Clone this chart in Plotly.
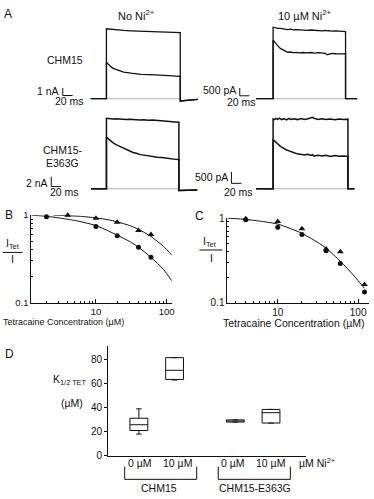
import plotly.graph_objects as go

W, H = 374, 499
FONT = "Liberation Sans, Arial, Helvetica, sans-serif"
INK = "#111111"


def fx(px):
    return px / W


def fy(py):
    return 1 - py / H


# ======================= DATA =======================
# ---- Panel A: current traces (time in ms from pulse onset, current in nA)
pulse_ms = 150

tl_time = [0, 5, 10, 15, 25, 35, 50, 70, 100, 130, 150]
tl_upper = [9.31, 9.27, 9.22, 9.19, 9.13, 9.09, 9.04, 8.99, 8.93, 8.86, 8.79]
tl_lower = [4.85, 4.5, 4.2, 4.0, 3.75, 3.55, 3.4, 3.25, 3.16, 3.05, 2.97]
tl_tail = [-0.3, -0.1]
tl_span = [-32, 186]

tr_time = [0, 3, 6, 10, 15, 20, 25, 30, 36, 42, 48, 55, 62, 70, 78, 86, 94, 102, 108, 112, 116, 122, 130, 138, 145, 150]
tr_upper = [4.58, 4.55, 4.53, 4.51, 4.50, 4.46, 4.47, 4.43, 4.45, 4.41, 4.43, 4.40, 4.41, 4.38, 4.40, 4.37, 4.38, 4.35, 4.37, 4.34, 4.36, 4.33, 4.34, 4.31, 4.32, 4.30]
tr_lower = [3.75, 3.62, 3.50, 3.38, 3.22, 3.12, 3.02, 2.97, 2.99, 2.95, 2.97, 2.94, 2.96, 2.93, 2.96, 2.92, 2.95, 2.93, 2.90, 2.82, 2.86, 2.90, 2.88, 2.90, 2.87, 2.88]
tr_tail = [0.0, 0.0]
tr_span = [-35, 174]

bl_time = [0, 4, 8, 14, 20, 27, 34, 41, 48, 55, 62, 70, 78, 86, 95, 105, 115, 125, 135, 143, 150]
bl_upper = [14.46, 14.38, 14.43, 14.32, 14.37, 14.27, 14.31, 14.21, 14.26, 14.17, 14.21, 14.11, 14.16, 14.05, 14.10, 13.99, 13.93, 13.85, 13.79, 13.71, 13.66]
bl_lower = [10.6, 10.2, 9.85, 9.4, 9.05, 8.7, 8.35, 8.0, 7.72, 7.45, 7.27, 7.0, 6.9, 6.72, 6.62, 6.45, 6.4, 6.22, 6.14, 6.03, 6.0]
bl_tail = [-0.35, -0.25]
bl_span = [-32, 188]

br_time = [0, 3, 6, 9, 13, 17, 22, 27, 32, 36, 42, 49, 56, 63, 70, 76, 79, 82, 90, 98, 106, 115, 124, 132, 141, 150]
br_upper = [3.06, 3.03, 3.08, 3.04, 3.09, 3.03, 3.07, 3.02, 3.08, 3.04, 3.07, 3.03, 3.08, 3.04, 3.07, 3.10, 3.13, 3.09, 3.04, 3.07, 3.03, 3.06, 3.02, 3.06, 3.03, 3.05]
br_lower = [2.16, 2.09, 2.02, 1.96, 1.89, 1.82, 1.75, 1.70, 1.66, 1.62, 1.58, 1.53, 1.52, 1.48, 1.51, 1.46, 1.49, 1.43, 1.47, 1.44, 1.47, 1.42, 1.46, 1.43, 1.44, 1.42]
br_tail = [0.0, 0.0]
br_span = [-34, 163]

scale_ms = [20, 20, 20, 20]
scale_amp_nA = [1.0, 0.5, 2.0, 0.5]
scale_amp_text = ["1 nA", "500 pA", "2 nA", "500 pA"]

# ---- Panel B: I_Tet / I vs tetracaine (µM)
b_tri_conc = [4, 10, 20, 40, 60, 120]
b_tri_ratio = [1.0, 0.92, 0.83, 0.67, 0.60, 0.30]
b_cir_conc = [2, 10, 20, 40, 60, 120]
b_cir_ratio = [0.96, 0.74, 0.58, 0.43, 0.33, 0.175]
b_fit_up_conc = [2.5, 4, 6, 10, 15, 20, 30, 40, 60, 90, 120]
b_fit_up = [1.0, 0.985, 0.97, 0.93, 0.885, 0.84, 0.76, 0.69, 0.57, 0.44, 0.345]
b_fit_lo_conc = [1.22, 2, 3, 5, 7, 10, 15, 20, 30, 40, 60, 90, 120]
b_fit_lo = [1.0, 0.97, 0.93, 0.87, 0.82, 0.76, 0.66, 0.59, 0.50, 0.43, 0.33, 0.24, 0.175]

# ---- Panel C
c_conc = [4, 10, 20, 40, 60, 120]
c_tri_ratio = [0.98, 0.91, 0.75, 0.43, 0.40, 0.164]
c_cir_ratio = [0.955, 0.78, 0.64, 0.41, 0.29, 0.134]
c_fit_conc = [2.37, 3, 4, 6, 10, 15, 20, 30, 40, 60, 90, 120]
c_fit = [1.0, 0.985, 0.965, 0.92, 0.85, 0.74, 0.66, 0.53, 0.44, 0.31, 0.205, 0.148]

# ---- Panel D: K1/2 TET (µM) box summaries
d_channels = ["CHM15", "CHM15-E363G"]
d_ni_labels = ["0 µM", "10 µM"]
d_q1 = [21.1, 63.5, 28.1, 27.3]
d_median = [25.9, 71.1, 29.0, 35.9]
d_q3 = [31.3, 81.6, 29.9, 38.6]
d_low = [18.1, 63.0, 28.1, 27.3]
d_high = [39.1, 81.6, 29.9, 38.6]

# ======================= FIGURE =======================
fig = go.Figure()
layout = dict(
    width=W, height=H, autosize=False,
    margin=dict(l=0, r=0, t=0, b=0),
    paper_bgcolor="white", plot_bgcolor="white",
    showlegend=False,
    font=dict(family=FONT, color=INK, size=10),
)
annotations = []
shapes = []


def text(x, y, s, size=10, xanchor="center"):
    annotations.append(dict(x=fx(x), y=fy(y), xref="paper", yref="paper", text=s,
                            showarrow=False, xanchor=xanchor, yanchor="middle",
                            font=dict(size=size, family=FONT, color=INK)))


def pline(x0, y0, x1, y1, w=1, color=INK):
    shapes.append(dict(type="line", xref="paper", yref="paper", x0=fx(x0), y0=fy(y0),
                       x1=fx(x1), y1=fy(y1), line=dict(color=color, width=w)))


# ---- Panel A geometry: (dom x0, x1, y0, y1 px, onset px, px/ms, baseline px, px/nA)
a_geom = [
    (85, 205, 10, 105, 107.3, 0.496, 95.0, 7.7),
    (255, 372, 10, 105, 275.3, 0.487, 95.0, 16.0),
    (85, 205, 105, 196, 107.3, 0.487, 187.3, 5.0),
    (255, 372, 105, 196, 275.3, 0.503, 187.3, 23.4),
]
a_data = [
    (tl_time, tl_upper, tl_lower, tl_tail, tl_span, 1.3),
    (tr_time, tr_upper, tr_lower, tr_tail, tr_span, 1.3),
    (bl_time, bl_upper, bl_lower, bl_tail, bl_span, 1.5),
    (br_time, br_upper, br_lower, br_tail, br_span, 1.5),
]
a_scale_corner = [(63.3, 91.7), (241.7, 92.0), (51.7, 185.0), (233.3, 181.7)]

for i, (g, d) in enumerate(zip(a_geom, a_data)):
    x0, x1, y0, y1, t0px, ppms, basepx, ppn = g
    t, up, lo, tail, span, lw = d
    k = i + 1
    xa, ya = f"x{k}", f"y{k}"
    layout[f"xaxis{k}"] = dict(domain=[fx(x0), fx(x1)], anchor=ya, visible=False,
                               range=[(x0 - t0px) / ppms, (x1 - t0px) / ppms], fixedrange=True)
    layout[f"yaxis{k}"] = dict(domain=[fy(y1), fy(y0)], anchor=xa, visible=False,
                               range=[(basepx - y1) / ppn, (basepx - y0) / ppn], fixedrange=True)
    # zero reference during pulse
    fig.add_trace(go.Scatter(x=[0, pulse_ms], y=[0, 0], mode="lines", xaxis=xa, yaxis=ya,
                             line=dict(color="#b0b0b0", width=1), hoverinfo="skip"))
    for vals in (up, lo):
        xs = [span[0], 0] + list(t) + [pulse_ms, span[1]]
        ys = [0, 0] + list(vals) + [tail[0], tail[1]]
        fig.add_trace(go.Scatter(x=xs, y=ys, mode="lines", xaxis=xa, yaxis=ya,
                                 line=dict(color=INK, width=lw), hoverinfo="skip"))
    # scale bar
    cx, cy = a_scale_corner[i]
    pline(cx, cy, cx, cy - scale_amp_nA[i] * ppn)
    pline(cx, cy, cx + scale_ms[i] * ppms, cy)

# scale bar texts
text(61, 87.5, scale_amp_text[0], 10.5, "right")
text(70, 97.5, f"{scale_ms[0]} ms", 10.5)
text(240, 86.5, scale_amp_text[1], 10.5, "right")
text(243, 98, f"{scale_ms[1]} ms", 10.5)
text(50, 181, scale_amp_text[2], 10.5, "right")
text(65, 191, f"{scale_ms[2]} ms", 10.5)
text(232, 175.5, scale_amp_text[3], 10.5, "right")
text(240.5, 190.5, f"{scale_ms[3]} ms", 10.5)

text(8, 8, "A", 12)
text(138, 9, "No Ni<sup>2+</sup>", 11)
text(307, 9, "10 µM Ni<sup>2+</sup>", 11)
text(66, 55.5, "CHM15", 10.5)
text(64, 147.5, "CHM15-", 10.5)
text(63.5, 161, "E363G", 10.5)

# ---- Panels B and C (log-log)
minor_x = [2, 3, 4, 5, 6, 7, 8, 9, 20, 30, 40, 50, 60, 70, 80, 90]
minor_y = [0.2, 0.3, 0.4, 0.5, 0.6, 0.7, 0.8, 0.9]


def log_axes(k, xdom_px, ydom_px, x10px, x100px, tick_size):
    xa0, xa1 = xdom_px
    dec = x100px - x10px
    lo = 1 - (x10px - xa0) / dec
    hi = 2 + (xa1 - x100px) / dec
    layout[f"xaxis{k}"] = dict(
        domain=[fx(xa0), fx(xa1)], anchor=f"y{k}", type="log", range=[lo, hi],
        showline=True, linecolor=INK, linewidth=1, showgrid=False, zeroline=False,
        tickmode="array", tickvals=[10, 100], ticktext=["10", "100"],
        ticks="inside", ticklen=4, tickcolor=INK, tickwidth=1,
        minor=dict(tickmode="array", tickvals=minor_x, ticks="inside", ticklen=2,
                   tickcolor=INK, tickwidth=1),
        tickfont=dict(size=tick_size, family=FONT, color=INK), fixedrange=True)
    layout[f"yaxis{k}"] = dict(
        domain=[fy(ydom_px[1]), fy(ydom_px[0])], anchor=f"x{k}", type="log", range=[-1, 0],
        showline=True, linecolor=INK, linewidth=1, showgrid=False, zeroline=False,
        tickmode="array", tickvals=[0.1, 1], ticktext=["0.1", "1"],
        ticks="inside", ticklen=4, tickcolor=INK, tickwidth=1,
        minor=dict(tickmode="array", tickvals=minor_y, ticks="inside", ticklen=2,
                   tickcolor=INK, tickwidth=1),
        tickfont=dict(size=tick_size, family=FONT, color=INK), fixedrange=True)


log_axes(5, (31.7, 173), (214.3, 304), 96.7, 168, 9.5)
log_axes(6, (229.3, 372), (217.3, 304), 280, 361, 10)


def add_line(k, xs, ys):
    fig.add_trace(go.Scatter(x=xs, y=ys, mode="lines", xaxis=f"x{k}", yaxis=f"y{k}",
                             line=dict(color=INK, width=1, shape="spline", smoothing=0.6),
                             cliponaxis=False, hoverinfo="skip"))


def add_pts(k, xs, ys, symbol, size):
    fig.add_trace(go.Scatter(x=xs, y=ys, mode="markers", xaxis=f"x{k}", yaxis=f"y{k}",
                             marker=dict(symbol=symbol, size=size, color=INK, line=dict(width=0)),
                             cliponaxis=False, hoverinfo="skip"))


add_line(5, b_fit_up_conc, b_fit_up)
add_line(5, b_fit_lo_conc, b_fit_lo)
add_pts(5, b_tri_conc, b_tri_ratio, "triangle-up", 6)
add_pts(5, b_cir_conc, b_cir_ratio, "circle", 5)

add_line(6, c_fit_conc, c_fit)
add_pts(6, c_conc, c_tri_ratio, "triangle-up", 6)
add_pts(6, c_conc, c_cir_ratio, "circle", 5)

text(9.5, 214, "B", 12)
text(13, 243.5, "I<sub>Tet</sub>", 10.5)
pline(2.7, 252.5, 22.7, 252.5)
text(12.5, 259.5, "I", 10.5)
text(64, 324, "Tetracaine Concentration (µM)", 9)

text(201, 215, "C", 12)
text(211, 241.7, "I<sub>Tet</sub>", 10.5)
pline(201, 250, 224.3, 250)
text(213.3, 258.5, "I", 10.5)
text(296, 325, "Tetracaine Concentration (µM)", 10.5)

# ---- Panel D (box summaries)
d_pos = []
for gi in range(len(d_channels)):
    for ni in range(len(d_ni_labels)):
        d_pos.append(1 + gi * 2.7 + ni)
dx0, dx1, dy0, dy1 = 109, 308, 348, 461
ppu = 36.0
layout["xaxis7"] = dict(domain=[fx(dx0), fx(dx1)], anchor="y7",
                        range=[1 - (140 - dx0) / ppu, 1 + (dx1 - 140) / ppu],
                        showline=True, linecolor=INK, linewidth=1, showgrid=False,
                        zeroline=False, showticklabels=False, ticks="", fixedrange=True)
layout["yaxis7"] = dict(domain=[fy(dy1), fy(dy0)], anchor="x7",
                        range=[0, (dy1 - dy0) / 1.234],
                        showline=True, linecolor=INK, linewidth=1, showgrid=False,
                        zeroline=False, tickmode="array", tickvals=[0, 20, 40, 60, 80],
                        ticks="outside", ticklen=3, tickcolor=INK,
                        tickfont=dict(size=10, family=FONT, color=INK), fixedrange=True)
fig.add_trace(go.Box(x=d_pos, q1=d_q1, median=d_median, q3=d_q3,
                     lowerfence=d_low, upperfence=d_high, xaxis="x7", yaxis="y7",
                     width=0.5, whiskerwidth=0.3, fillcolor="white",
                     line=dict(color=INK, width=1), hoverinfo="skip"))

text(9.5, 357, "D", 12)
text(51.5, 383, "K<sub>1/2 TET</sub>", 10.5, "left")
text(73, 407, "(µM)", 10.5)
ni_x = [141, 179, 235, 273]
for i, xx in enumerate(ni_x):
    text(xx, 468, d_ni_labels[i % 2], 10.5)
text(319.5, 468, "µM Ni<sup>2+</sup>", 10.5)
# brackets
for (bx0, bx1), lab, cxp in zip([(125.7, 198.3), (220, 292.7)], d_channels, [160, 256.7]):
    pline(bx0, 472, bx0, 485)
    pline(bx0, 485, bx1, 485)
    pline(bx1, 472, bx1, 485)
    text(cxp, 494, lab, 10.5)

layout["annotations"] = annotations
layout["shapes"] = shapes
fig.update_layout(**layout)

fig.write_html("out.html", config={"displayModeBar": False, "staticPlot": True},
               post_script="document.body.style.margin='0';")
